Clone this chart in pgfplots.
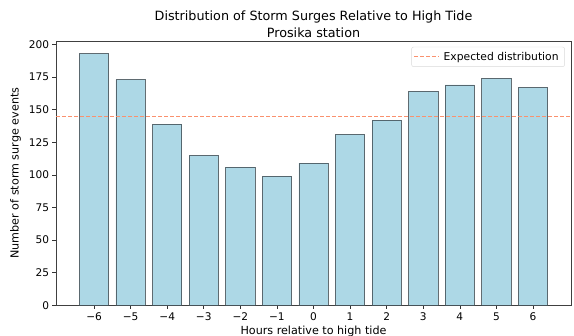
\documentclass[border=0pt]{standalone}
\usepackage{pgfplots}
\pgfplotsset{compat=1.18}
\usepackage{fontspec}
\setmainfont{DejaVu Sans}
\definecolor{barfill}{RGB}{173,216,230}
\definecolor{baredge}{RGB}{62,74,80}
\definecolor{expline}{RGB}{250,145,110}
\begin{document}
\begin{tikzpicture}
\useasboundingbox (-56bp,-30.7bp) rectangle (518bp,305.3bp);
\begin{axis}[
  at={(0,0)}, anchor=south west,
  scale only axis,
  width=515bp, height=264.3bp,
  xmin=-7.04, xmax=7.04,
  ymin=0, ymax=202.65,
  xtick={-6,...,6},
  xticklabels={−6,−5,−4,−3,−2,−1,0,1,2,3,4,5,6},
  ytick={0,25,50,75,100,125,150,175,200},
  /pgf/number format/assume math mode=true,
  tick align=outside,
  tick pos=left,
  major tick length=3.5bp,
  tick style={black!80, line width=0.6pt},
  axis line style={black!75, line width=0.6pt},
  ticklabel style={font=\fontsize{10.6}{12}\selectfont},
  xlabel={Hours relative to high tide},
  ylabel={Number of storm surge events},
  label style={font=\fontsize{11.2}{13}\selectfont},
  xlabel style={yshift=1bp},
  ylabel style={yshift=1bp},
  title={Distribution of Storm Surges Relative to High Tide\\Prosika station},
  title style={font=\fontsize{12.8}{17}\selectfont, align=center, yshift=-6bp},
  legend style={at={(0.988,0.978)}, anchor=north east, draw=black!15, rounded corners=2pt,
    font=\fontsize{10.8}{12}\selectfont, inner xsep=2bp, inner ysep=3bp,
    nodes={inner xsep=4bp}},
  legend cell align=left,
  legend image code/.code={\draw[#1] (0bp,0bp) -- (25bp,0bp);},
]
\addplot[ybar, bar width=0.8, fill=barfill, draw=baredge, draw opacity=0.8, line width=0.7pt, forget plot]
  coordinates {(-6,193) (-5,173) (-4,139) (-3,115) (-2,106) (-1,99) (0,109) (1,131) (2,142) (3,164) (4,169) (5,174) (6,167)};
\addplot[color=expline, line width=1.1pt, dash pattern=on 4bp off 2bp]
  coordinates {(-7.04,144.7) (7.04,144.7)};
\addlegendentry{Expected distribution}
\end{axis}
\end{tikzpicture}
\end{document}
